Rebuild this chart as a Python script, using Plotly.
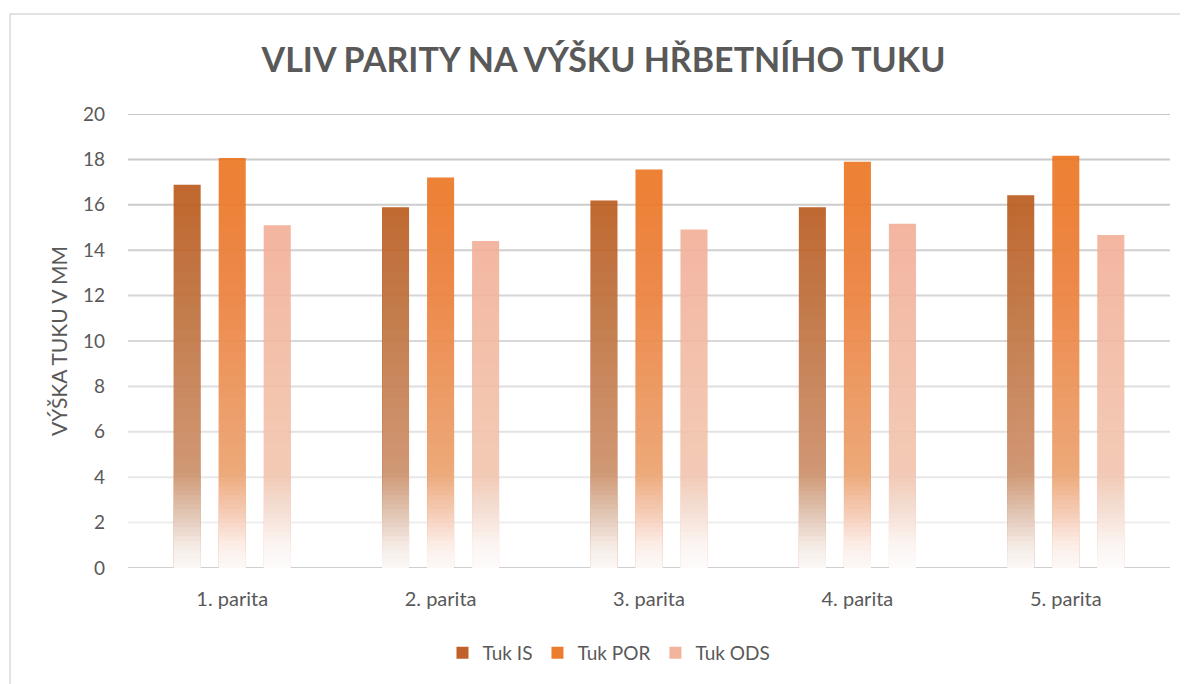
import numpy as np
import plotly.graph_objects as go

# ---------------- data ----------------
categories = ["1. parita", "2. parita", "3. parita", "4. parita", "5. parita"]
tuk_is = [16.88, 15.89, 16.19, 15.89, 16.42]
tuk_por = [18.06, 17.20, 17.56, 17.90, 18.16]
tuk_ods = [15.10, 14.40, 14.91, 15.17, 14.67]
series_names = ["Tuk IS", "Tuk POR", "Tuk ODS"]
y_ticks = [0, 2, 4, 6, 8, 10, 12, 14, 16, 18, 20]

title_text = "VLIV PARITY NA VÝŠKU HŘBETNÍHO TUKU"
y_title = "VÝŠKA TUKU V MM"

# ---------------- style ----------------
FONT = "Lato"
TXT = "#595959"
top_colors = [(192, 98, 42), (237, 125, 49), (243, 180, 158)]
bar_opacity = 0.9
bar_width = 0.1296
bar_offsets = [-0.281, -0.0648, 0.1512]

# white fade profile (fraction of white mixed in, by height)
fade_v = [0.0, 0.5, 1.0, 2.0, 3.0, 4.2, 10.0, 16.0, 20.0]
fade_w = [0.97, 0.94, 0.90, 0.75, 0.60, 0.41, 0.23, 0.05, 0.0]
levels = np.round(np.concatenate([np.arange(19.5, 5.0, -0.5), np.arange(5.0, 0.1, -0.2)]), 3)
mids = np.append((levels[:-1] + levels[1:]) / 2.0, levels[-1] / 2.0)
T = 1.0 - np.interp(mids, fade_v, fade_w)
prevT = np.concatenate([[1.0], T[:-1]])
alphas = np.clip(1.0 - T / prevT, 0, 1)

grid_grays = {0: 207, 2: 238, 4: 232, 6: 226, 8: 222, 10: 216, 12: 214, 14: 208, 16: 204, 18: 202, 20: 198}


def comp(c):
    # compensate for bar opacity over white
    return "rgb(%d,%d,%d)" % tuple(max(0, round((v - 255 * (1 - bar_opacity)) / bar_opacity)) for v in c)


fig = go.Figure()
all_series = [tuk_is, tuk_por, tuk_ods]
for name, vals, col, off in zip(series_names, all_series, top_colors, bar_offsets):
    fig.add_trace(go.Bar(
        x=categories, y=vals, name=name,
        marker=dict(color=comp(col), line=dict(width=0)),
        opacity=bar_opacity, width=bar_width, offset=off,
        hovertemplate="%{x}<br>" + name + ": %{y}<extra></extra>",
    ))
    for L, a in zip(levels, alphas):
        if a <= 0.0005:
            continue
        fig.add_trace(go.Bar(
            x=categories, y=np.minimum(vals, L),
            marker=dict(color="rgba(255,255,255,%.4f)" % a, line=dict(width=0)),
            width=bar_width, offset=off, showlegend=False, hoverinfo="skip",
        ))

shapes = []
for t in y_ticks:
    g = grid_grays[t]
    shapes.append(dict(type="line", xref="paper", yref="y", x0=0, x1=1, y0=t, y1=t,
                       line=dict(color="rgb(%d,%d,%d)" % (g, g, g), width=2), layer="below"))
# chart border
shapes.append(dict(type="rect", xref="paper", yref="paper", x0=-0.1132, x1=1.2, y0=-0.5, y1=1.2204,
                   line=dict(color="#d9d9d9", width=1.5), layer="below"))

W, H = 1180, 676  # page body adds an 8px margin
fig.update_layout(
    width=W, height=H,
    barmode="overlay",
    paper_bgcolor="white", plot_bgcolor="white",
    margin=dict(l=120, r=18, t=106, b=114),
    font=dict(family=FONT, color=TXT),
    title=dict(text=title_text, x=595.5 / W, xref="container", xanchor="center",
               y=1 - 52 / H, yref="container", yanchor="middle",
               font=dict(family=FONT, size=34, color=TXT, weight="bold")),
    xaxis=dict(type="category", showgrid=False, zeroline=False, showline=False,
               tickfont=dict(family=FONT, size=20, color=TXT), ticklabelstandoff=17),
    yaxis=dict(range=[0, 20], tickvals=y_ticks, showgrid=False, zeroline=False, showline=False,
               tickfont=dict(family=FONT, size=19, color=TXT), ticklabelstandoff=22),
    legend=dict(orientation="h", x=0.4616, xanchor="center", y=-0.187, yanchor="middle",
                font=dict(family=FONT, size=19, color=TXT), traceorder="normal"),
    shapes=shapes,
    annotations=[dict(text=y_title, textangle=-90, xref="paper", yref="paper",
                      x=-0.0672, y=0.5, xanchor="center", yanchor="middle", showarrow=False,
                      font=dict(family=FONT, size=21, color=TXT))],
    showlegend=True,
)

fig.write_html("out.html")
